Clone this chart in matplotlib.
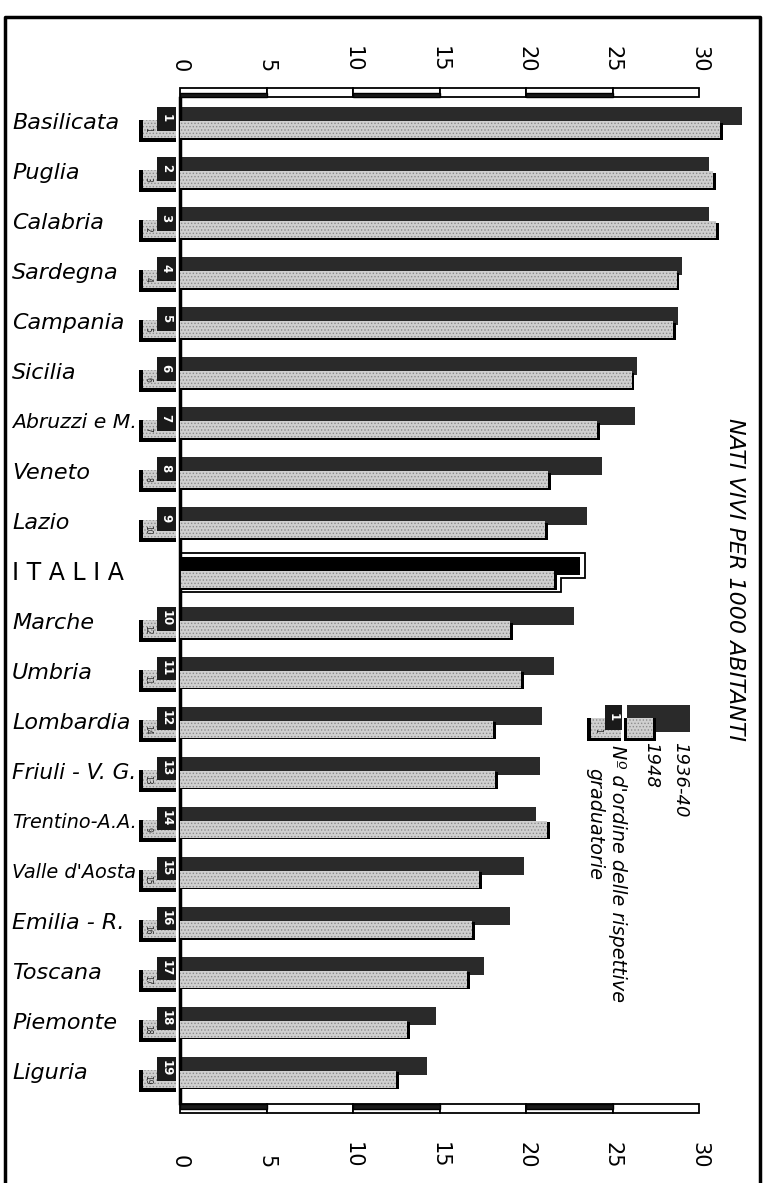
import numpy as np
import matplotlib.pyplot as plt
from matplotlib.patches import Rectangle, Polygon
from matplotlib.lines import Line2D

# dati: nati vivi per 1000 abitanti
regioni = ["Basilicata", "Puglia", "Calabria", "Sardegna", "Campania", "Sicilia",
           "Abruzzi e M.", "Veneto", "Lazio", "ITALIA", "Marche", "Umbria",
           "Lombardia", "Friuli - V. G.", "Trentino-A.A.", "Valle d'Aosta",
           "Emilia - R.", "Toscana", "Piemonte", "Liguria"]
nati_1936_40 = [32.5, 30.6, 30.6, 29.0, 28.8, 26.4, 26.3, 24.4, 23.5, 23.1,
                22.8, 21.6, 20.9, 20.8, 20.6, 19.9, 19.1, 17.6, 14.8, 14.3]
nati_1948 = [31.2, 30.8, 31.0, 28.7, 28.5, 26.1, 24.1, 21.3, 21.1, 21.6,
             19.1, 19.7, 18.1, 18.2, 21.2, 17.3, 16.9, 16.6, 13.1, 12.5]
rango_1936_40 = [1, 2, 3, 4, 5, 6, 7, 8, 9, None, 10, 11, 12, 13, 14, 15, 16, 17, 18, 19]
rango_1948 = [1, 3, 2, 4, 5, 6, 7, 8, 10, None, 12, 11, 14, 13, 9, 15, 16, 17, 18, 19]
tacche = [0, 5, 10, 15, 20, 25, 30]

W, H = 772, 1183
X0 = 180          # pixel dello zero
PX_UNIT = 17.3    # pixel per unita'
XMAX = 33


def fx(px):
    return px / W


def fy(py):
    return 1 - py / H


def rect_px(fig, x0, y0, x1, y1, **kw):
    r = Rectangle((fx(x0), fy(y1)), (x1 - x0) / W, (y1 - y0) / H,
                  transform=fig.transFigure, **kw)
    fig.add_artist(r)


DARK = "#2a2a2a"
LIGHT = "#cfcfcf"
plt.rcParams["hatch.linewidth"] = 0.6

fig = plt.figure(figsize=(W / 100, H / 100), dpi=100)
fig.patch.set_facecolor("white")

# ---------------- grafico principale ----------------
ax = fig.add_axes([fx(X0), fy(1103), XMAX * PX_UNIT / W, (1103 - 98) / H])
ax.set_xlim(0, XMAX)
ax.set_ylim(19.6, -0.5)
for s in ["top", "right", "bottom"]:
    ax.spines[s].set_visible(False)
ax.spines["left"].set_linewidth(2.5)
ax.set_xticks([])
ax.set_yticks([])
ax.patch.set_alpha(0)

y = np.arange(len(regioni))
dark = np.array(nati_1936_40)
light = np.array(nati_1948)
dark_colors = ["black" if r == "ITALIA" else DARK for r in regioni]

ax.barh(y - 0.14, dark, height=0.36, color=dark_colors, zorder=2, clip_on=False)
ax.barh(y + 0.16, light + 0.17, height=0.34, color="black", zorder=3, clip_on=False)
ax.barh(y + 0.13, light, height=0.34, color=LIGHT, hatch=".....",
        edgecolor="#8c8c8c", linewidth=0, zorder=4, clip_on=False)

# contorno ITALIA
i_it = regioni.index("ITALIA")
d_it, l_it = dark[i_it], light[i_it]
contorno = Polygon([(0, i_it - 0.39), (d_it + 0.3, i_it - 0.39), (d_it + 0.3, i_it + 0.09),
                    (l_it + 0.4, i_it + 0.09), (l_it + 0.4, i_it + 0.38), (0, i_it + 0.38)],
                   closed=True, fill=False, edgecolor="black", linewidth=1.3,
                   zorder=5, clip_on=False)
ax.add_patch(contorno)

# etichette e numeri d'ordine
etichette = []
for i, nome in enumerate(regioni):
    if nome == "ITALIA":
        ax.text(-9.7, i, "I T A L I A", fontsize=17, va="center", ha="left")
        continue
    t = ax.text(-9.7, i, nome, fontsize=16, style="italic", va="center", ha="left")
    etichette.append(t)
    # badge 1948 (chiaro)
    ax.add_patch(Rectangle((-2.35, i - 0.06), 2.1, 0.44, facecolor="black",
                           zorder=3, clip_on=False))
    ax.add_patch(Rectangle((-2.15, i - 0.06), 1.9, 0.36, facecolor=LIGHT, hatch=".....",
                           edgecolor="#8c8c8c", linewidth=0, zorder=4, clip_on=False))
    ax.text(-1.85, i + 0.13, str(rango_1948[i]), fontsize=5.5, rotation=-90,
            ha="center", va="center", color="#222222", zorder=6)
    # badge 1936-40 (scuro)
    ax.add_patch(Rectangle((-1.35, i - 0.32), 1.1, 0.47, facecolor="#1a1a1a",
                           zorder=5, clip_on=False))
    ax.text(-0.8, i - 0.09, str(rango_1936_40[i]), fontsize=8.5, rotation=-90,
            ha="center", va="center", color="white", fontweight="bold", zorder=6)

# le etichette lunghe non devono coprire i numeri dei badge
renderer = fig.canvas.get_renderer()
for t in etichette:
    bb = t.get_window_extent(renderer)
    if bb.x1 > 137:
        t.set_fontsize(t.get_fontsize() * (137 - 12) / (bb.x1 - 12))

# ---------------- scale graduate ----------------
for (top, bottom, dark_low, off) in [(88, 97, True, 11), (1104, 1113, False, -40)]:
    sax = fig.add_axes([fx(X0), fy(bottom), XMAX * PX_UNIT / W, (bottom - top) / H])
    sax.set_xlim(0, XMAX)
    sax.set_ylim(0, 1)
    sax.axis("off")
    left = tacche[:-1]
    sax.bar(left, 1, width=5, align="edge", facecolor="white",
            edgecolor="black", linewidth=1.3, clip_on=False)
    sax.bar(left[::2], 0.5, width=5, align="edge", bottom=0 if dark_low else 0.5,
            facecolor="#1a1a1a", edgecolor="black", linewidth=1.0, clip_on=False)
    for t in tacche:
        sax.annotate(str(t), xy=(t, 1 if off > 0 else 0), xytext=(0, off),
                     textcoords="offset points", rotation=-90, ha="center",
                     va="bottom", fontsize=15)

# ---------------- titolo e legenda ----------------
fig.text(fx(735), fy(418), "NATI VIVI PER 1000 ABITANTI", rotation=-90,
         ha="center", va="top", style="italic", fontsize=16)

rect_px(fig, 627, 705, 690, 732, facecolor=DARK)
rect_px(fig, 624, 718, 656, 741, facecolor="black")
rect_px(fig, 627, 718, 653, 738, facecolor=LIGHT, hatch=".....",
        edgecolor="#8c8c8c", linewidth=0)
rect_px(fig, 587, 718, 621, 741, facecolor="black")
rect_px(fig, 591, 718, 621, 738, facecolor=LIGHT, hatch=".....",
        edgecolor="#8c8c8c", linewidth=0)
rect_px(fig, 605, 705, 622, 730, facecolor="#1a1a1a")
fig.text(fx(613), fy(717), "1", rotation=-90, ha="center", va="center",
         color="white", fontsize=8.5, fontweight="bold")
fig.text(fx(598), fy(730), "1", rotation=-90, ha="center", va="center",
         color="#222222", fontsize=5.5)

fig.text(fx(680), fy(742), "1936-40", rotation=-90, ha="center", va="top",
         style="italic", fontsize=13)
fig.text(fx(651), fy(742), "1948", rotation=-90, ha="center", va="top",
         style="italic", fontsize=13)
fig.text(fx(618), fy(745), "Nº d'ordine delle rispettive", rotation=-90,
         ha="center", va="top", style="italic", fontsize=13.8)
fig.text(fx(595), fy(768), "graduatorie", rotation=-90, ha="center", va="top",
         style="italic", fontsize=13.8)

# cornice
fig.add_artist(Line2D([fx(5), fx(5), fx(760), fx(760)],
                      [fy(1183), fy(17), fy(17), fy(1183)],
                      transform=fig.transFigure, color="black", linewidth=2.5))

fig.savefig("out.png", dpi=100, facecolor="white")
